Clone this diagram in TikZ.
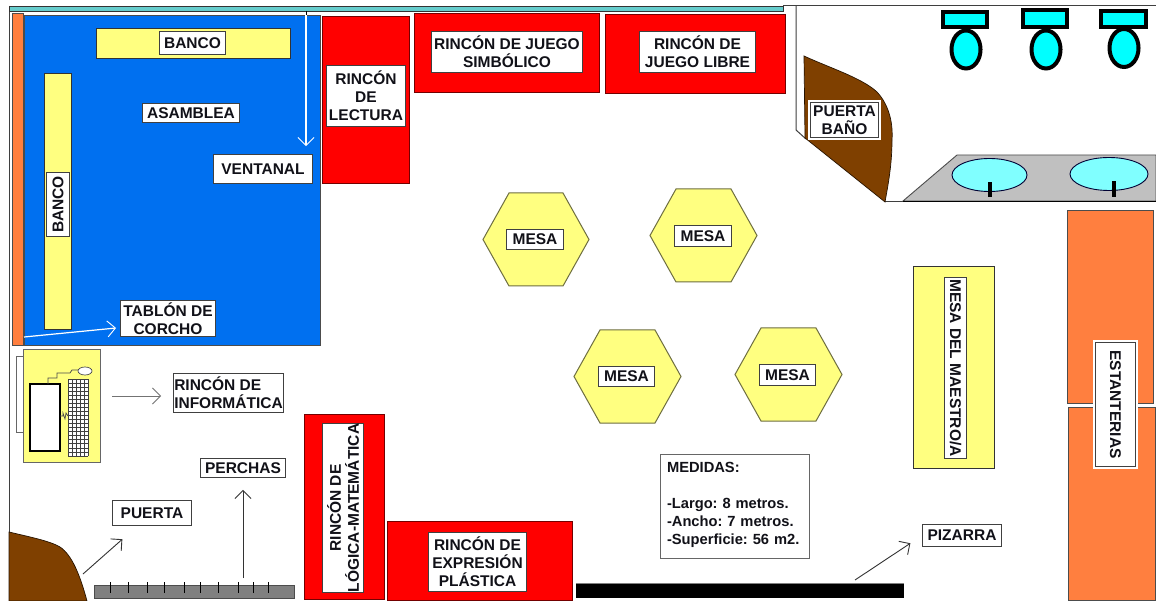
\documentclass[tikz,border=0pt]{standalone}
\usepackage{fontspec}
\setmainfont{Liberation Sans}
\usetikzlibrary{arrows.meta}
\definecolor{wall}{HTML}{3F3F3F}
\definecolor{teal1}{HTML}{66CCCC}
\definecolor{bluefloor}{HTML}{0070F0}
\definecolor{orangeshelf}{HTML}{FF7F3F}
\definecolor{yellowfurn}{HTML}{FFFF80}
\definecolor{redzone}{HTML}{FF0000}
\definecolor{browndoor}{HTML}{7F4000}
\definecolor{cyanwc}{HTML}{00FFFF}
\definecolor{cyansink}{HTML}{80FFFF}
\definecolor{counter}{HTML}{C0C0C0}
\definecolor{rack}{HTML}{808080}
\definecolor{hexline}{HTML}{6E6E40}
\definecolor{inktext}{HTML}{111118}
\tikzset{
  lbl/.style={draw=black!75,line width=0.9pt,fill=white,text=inktext,inner sep=0pt,align=center,
    font=\fontsize{15.5}{18}\selectfont\bfseries\frenchspacing},
  halo/.style={preaction={draw=white,line width=4.5pt}},
  zone/.style={draw=black!55!red,line width=0.9pt,fill=redzone},
  furn/.style={draw=black!80,line width=0.9pt,fill=yellowfurn},
  shelf/.style={draw=black!70,line width=0.9pt,fill=orangeshelf},
  door/.style={fill=browndoor,draw=black!70!browndoor,line width=0.7pt},
  wc/.style={draw=black,line width=4pt,fill=cyanwc},
  sinkbowl/.style={draw=black!80!blue,line width=0.9pt,fill=cyansink},
  barbhead/.style={-{Straight Barb[length=8pt,width=16pt,line width=0.9pt]}},
  darrow/.style={barbhead,draw=black!80,line width=0.9pt},
  warrow/.style={barbhead,draw=white,line width=1.2pt},
  garrow/.style={barbhead,draw=black!55,line width=0.9pt},
  hexa/.style={draw=hexline,line width=1pt,fill=yellowfurn},
  wallline/.style={draw=wall,line width=1pt}
}
\newcommand{\lab}[7][]{%
  \pgfmathsetmacro\cxx{(#3+#5)/2}\pgfmathsetmacro\cyy{(#4+#6)/2}%
  \pgfmathsetmacro\www{#5-#3-1}\pgfmathsetmacro\hhh{#6-#4-1}%
  \node[lbl,minimum width=\www pt,minimum height=\hhh pt,#1] (#2) at (\cxx,\cyy) {#7};}
\newcommand{\rlab}[7][]{%
  \pgfmathsetmacro\cxx{(#3+#5)/2}\pgfmathsetmacro\cyy{(#4+#6)/2}%
  \pgfmathsetmacro\www{#6-#4-1}\pgfmathsetmacro\hhh{#5-#3-1}%
  \node[lbl,minimum width=\www pt,minimum height=\hhh pt,#1] (#2) at (\cxx,\cyy) {#7};}
\newcommand{\hexagono}[4]{%
  \pgfmathsetmacro\xa{#1+26}\pgfmathsetmacro\xb{#2-26}\pgfmathsetmacro\ym{(#3+#4)/2}%
  \draw[hexa] (#1,\ym) -- (\xa,#3) -- (\xb,#3) -- (#2,\ym) -- (\xb,#4) -- (\xa,#4) -- cycle;}
\begin{document}
\begin{tikzpicture}[x=1pt,y=-1pt]
\useasboundingbox (0,0) rectangle (1156,601);
\fill[white] (0,0) rectangle (1156,601);
% walls
\draw[wallline] (9,6) -- (9,601);
\draw[wallline] (783,6) -- (1156,6);
\draw[wallline] (796,6) -- (796,130) -- (806,139);
\draw[wallline] (885,202) -- (1156,202);
\draw[draw=black!80,line width=0.8pt,fill=teal1] (9,6.5) rectangle (783,11);
% assembly
\draw[draw=black!70,line width=0.8pt,fill=bluefloor] (24,15) rectangle (320,345);
\draw[draw=black!70,line width=0.8pt,fill=orangeshelf] (12,13) rectangle (23,345.5);
\draw[furn] (96,28) rectangle (290,58);
\draw[furn] (44,73) rectangle (71,329);
% red corners
\draw[zone] (322,16) rectangle (409,183);
\draw[zone] (414,13) rectangle (599,92);
\draw[zone] (605,14) rectangle (785,93);
\draw[zone] (304,414) rectangle (384,599);
\draw[zone] (387,521) rectangle (572,600);
% tables
\hexagono{483}{589}{193}{286}
\hexagono{650}{757}{189}{282}
\hexagono{574}{681}{330}{423}
\hexagono{735}{842}{328}{421}
% teacher table, shelves, blackboard
\draw[furn] (913,266) rectangle (994,468);
\draw[shelf] (1067,210) rectangle (1153,403);
\draw[shelf] (1068,407) rectangle (1155,600);
\fill[black] (576,584) rectangle (904,598);
\draw[draw=black!50,line width=1pt] (576,583.5) -- (904,583.5);
% doors
\draw[door] (804,56) .. controls (830,68) and (862,78) .. (877,92)
  .. controls (890,106) and (893,125) .. (892,140)
  .. controls (892,165) and (888,185) .. (885,202) -- (805,138) -- cycle;
\draw[door] (9,532) .. controls (30,537) and (50,541) .. (60,547)
  .. controls (72,555) and (80,575) .. (87,601) -- (9,601) -- cycle;
% coat rack
\draw[draw=black!70,line width=0.8pt,fill=rack] (94,585) rectangle (294,598);
\foreach \t in {110,128,147,164,184,200,218,238,253,268}
  \draw[black,line width=0.8pt] (\t,582) -- (\t,593);
% washroom
\draw[draw=black!70,line width=0.9pt,fill=counter] (903,201) -- (957,155) -- (1156,155) -- (1156,201) -- cycle;
\draw[black,line width=1.2pt] (903,201.5) -- (1156,201.5);
\draw[sinkbowl] (989.5,175) ellipse [x radius=37.5,y radius=16.5];
\draw[sinkbowl] (1109,174) ellipse [x radius=39,y radius=16.5];
\fill[black] (987.5,182) rectangle (991.5,197);
\fill[black] (1112,181) rectangle (1116,197);
\draw[wc] (943,12) rectangle (987,27);
\draw[wc] (1023,10) rectangle (1067,27);
\draw[wc] (1101,11) rectangle (1146,27);
\draw[wc] (966,49.5) ellipse [x radius=14.5,y radius=19];
\draw[wc] (1046,49.5) ellipse [x radius=14.5,y radius=19];
\draw[wc] (1124,48) ellipse [x radius=14.5,y radius=19];
% computer corner
\draw[draw=black!60,line width=0.9pt] (23,356) -- (16,356) -- (16,432) -- (23,432);
\draw[draw=black!60,line width=0.9pt,fill=yellowfurn] (23,349) rectangle (100,462);
\draw[black,line width=1.8pt,fill=white] (30,384) rectangle (60,451);
\fill[white] (68,379) rectangle (88,456);
\foreach \k in {0,...,5} \draw[black!75,line width=0.7pt] (68+4*\k,379) -- (68+4*\k,456);
\foreach \k in {0,...,19} \draw[black!75,line width=0.7pt] (68,379+4.05*\k) -- (88,379+4.05*\k);
\draw[black!70,line width=0.7pt] (48,384) -- (48,378) -- (57,378) -- (57,373) -- (70,373) -- (72,370) -- (78,370);
\draw[black!70,line width=0.7pt] (60,416) -- (63,416) -- (63,413) -- (65,419) -- (66,413) -- (68,416);
\draw[draw=black!70,line width=0.7pt,fill=white] (85,371) ellipse [x radius=7,y radius=4];
% labels
\lab{lblBancoA}{159}{31}{226}{55}{BANCO}
\rlab[rotate=90]{lblBancoB}{46}{172}{70}{237}{BANCO}
\lab{lblAsamblea}{142}{103}{240}{123}{ASAMBLEA}
\lab{lblVentanal}{213}{154}{313}{184}{VENTANAL}
\lab{lblTablon}{120}{300}{216}{337}{TABLÓN DE\\CORCHO}
\lab{lblLectura}{326}{65}{406}{127}{RINCÓN\\DE\\LECTURA}
\lab{lblSimbolico}{431}{31}{583}{73}{RINCÓN DE JUEGO\\SIMBÓLICO}
\lab{lblLibre}{639}{31}{756}{73}{RINCÓN DE\\JUEGO LIBRE}
\lab[align=left]{lblInformatica}{173}{373}{284}{413}{RINCÓN DE\\INFORMÁTICA}
\lab{lblPerchas}{200}{458}{286}{478}{PERCHAS}
\lab{lblPuerta}{112}{500}{192}{526}{PUERTA}
\rlab[rotate=90]{lblLogica}{322}{424}{364}{592}{RINCÓN DE\\LÓGICA-MATEMÁTICA}
\lab{lblExpresion}{428}{532}{527}{592}{RINCÓN DE\\EXPRESIÓN\\PLÁSTICA}
\lab[halo]{lblPuertaBano}{810}{102}{879}{138}{PUERTA\\BAÑO}
\lab{lblMesaA}{506}{229}{564}{250}{MESA}
\lab{lblMesaB}{674}{225}{732}{247}{MESA}
\lab{lblMesaC}{598}{366}{655}{387}{MESA}
\lab{lblMesaD}{759}{364}{816}{386}{MESA}
\rlab[rotate=-90]{lblMaestro}{944}{277}{967}{459}{MESA DEL MAESTRO/A}
\rlab[rotate=-90,halo]{lblEstanterias}{1095}{342}{1136}{467}{ESTANTERIAS}
\lab{lblPizarra}{922}{524}{1002}{547}{PIZARRA}
\lab[align=left,text width=136pt,draw=black!60,font=\fontsize{14.7}{18}\selectfont\bfseries\frenchspacing]{lblMedidas}{660}{454}{810}{559}{MEDIDAS:\\[18pt]-Largo: 8 metros.\\-Ancho: 7 metros.\\-Superficie: 56 m2.\\[-12pt]\mbox{}}
% connectors
\coordinate (startVentanal) at (306,15);
\coordinate (startTablon) at (24,337);
\coordinate (startInf) at (112,396);
\coordinate (startPerchas) at (243,578);
\coordinate (startPuerta) at (83,574);
\coordinate (startPizarra) at (855,580);
\coordinate (tipTablon) at ([xshift=-4pt,yshift=-9.5pt]lblTablon.west);
\draw[black,line width=1pt] (306,11) -- (startVentanal);
\draw[warrow,shorten >=8pt] (startVentanal) -- (startVentanal |- lblVentanal.north);
\draw[warrow] (startTablon) -- (tipTablon);
\draw[garrow,shorten >=12pt] (startInf) -- (startInf -| lblInformatica.west);
\draw[darrow,shorten >=12pt] (startPerchas) -- (lblPerchas);
\draw[darrow,shorten >=20pt] (startPuerta) -- (lblPuerta);
\draw[darrow,shorten >=14pt] (startPizarra) -- (lblPizarra.west);
\end{tikzpicture}
\end{document}
